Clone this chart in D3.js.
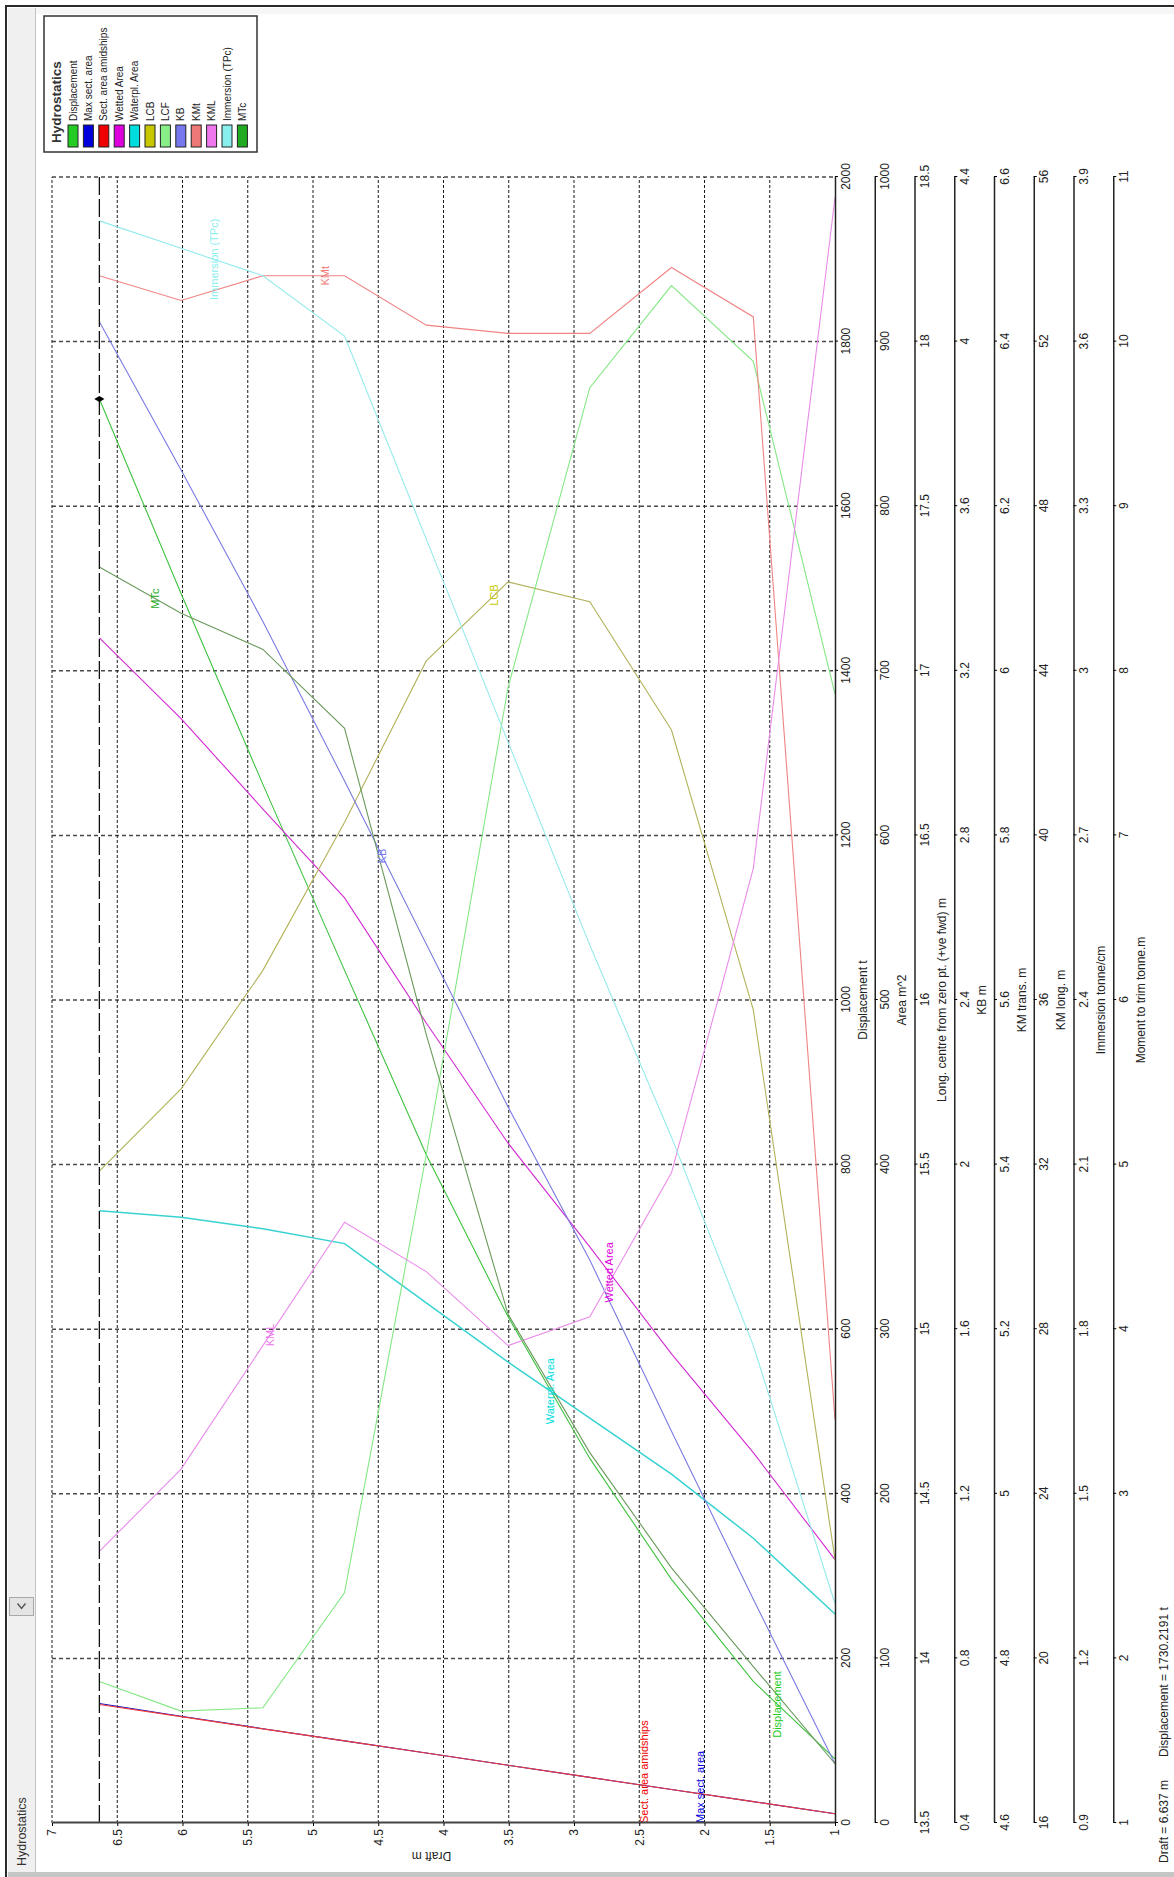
<!DOCTYPE html>
<html>
<head>
<meta charset="utf-8">
<script src="https://cdn.jsdelivr.net/npm/d3@7"></script>
<style>
  body { margin: 0; background: #fff; }
  svg { display: block; }
  text { font-family: "Liberation Sans", Arial, sans-serif; }
</style>
</head>
<body>
<svg id="chart" width="1174" height="1877"></svg>
<script>
// ---- Hydrostatic table: one value per draft station ----
const drafts = [1.0, 1.626, 2.253, 2.879, 3.505, 4.132, 4.758, 5.384, 6.011, 6.637];
const displacement = [78, 172, 296, 443, 615, 812, 1036, 1262, 1494, 1730.2191];
const maxSectArea = [5.6, 13.0, 20.4, 27.7, 35.1, 42.5, 49.9, 57.3, 64.9, 72.6];
const sectAreaAmidships = [5.6, 13.0, 20.4, 27.7, 35.1, 42.5, 49.9, 57.2, 64.6, 72.0];
const wettedArea = [160, 225, 285, 350, 413, 486, 562, 616, 671, 720];
const waterplArea = [127, 173, 212, 246, 280, 316, 352, 361, 368, 372];
const lcb = [14.30, 15.97, 16.82, 17.21, 17.27, 17.03, 16.54, 16.09, 15.73, 15.48];
const lcf = [16.93, 17.94, 18.17, 17.86, 16.95, 15.53, 14.20, 13.85, 13.84, 13.93];
const kb = [0.544, 0.944, 1.352, 1.768, 2.14, 2.536, 2.932, 3.32, 3.688, 4.048];
const kmt = [5.09, 6.43, 6.49, 6.41, 6.41, 6.42, 6.48, 6.48, 6.45, 6.48];
const kml = [55.5, 39.2, 31.8, 28.3, 27.6, 29.4, 30.6, 27.6, 24.6, 22.6];
const tpc = [1.30, 1.77, 2.15, 2.50, 2.87, 3.24, 3.61, 3.72, 3.77, 3.82];
const mtc = [1.36, 1.95, 2.55, 3.25, 4.09, 5.79, 7.65, 8.13, 8.35, 8.63];

// ---- Stacked value axes ----
const axisTitles = ["Displacement  t", "Area  m^2", "Long. centre  from  zero pt. (+ve fwd)  m", "KB  m",
                    "KM trans.  m", "KM long.  m", "Immersion  tonne/cm", "Moment to trim  tonne.m"];
const axisMin = [0, 0, 13.5, 0.4, 4.6, 16, 0.9, 1];
const axisMax = [2000, 1000, 18.5, 4.4, 6.6, 56, 3.9, 11];
const axisStep = [200, 100, 0.5, 0.4, 0.2, 4, 0.3, 1];

// Draft axis ticks
const draftTicks = d3.range(13).map(i => 1 + i * 0.5);

// ---- Series ----
const seriesNames = ["Displacement", "Max sect. area", "Sect. area amidships", "Wetted Area", "Waterpl. Area",
                     "LCB", "LCF", "KB", "KMt", "KML", "Immersion (TPc)", "MTc"];
const seriesValues = [displacement, maxSectArea, sectAreaAmidships, wettedArea, waterplArea,
                      lcb, lcf, kb, kmt, kml, tpc, mtc];
const seriesAxis = [0, 1, 1, 1, 1, 2, 2, 3, 4, 5, 6, 7];
const seriesColors = ["#3fc23f", "#1010c8", "#f03a3a", "#d42ad4", "#38d2d2",
                      "#b2b25a", "#84e884", "#7a7ae2", "#f08484", "#ea8cea", "#94eaea", "#6a9a5c"];
const swatchColors = ["#22cc22", "#0000dd", "#ee0000", "#dd00dd", "#00dddd",
                      "#c8c800", "#88ee88", "#7777ee", "#ee7777", "#ee77ee", "#88eeee", "#22aa22"];
// Curve label: draft at which the label sits, and whether it sits on the curve or at the axis start
const labelDraft = [1.44, 2.03, 2.46, 2.73, 3.18, 3.61, null, 4.47, 4.91, 5.33, 5.76, 6.21];
const labelAtStart = [false, true, true, false, false, false, false, false, false, false, false, false];

// Current loading condition
const currentDraft = 6.637;
const currentDisplacement = 1730.2191;

// ---- Layout (drawn unrotated, then turned a quarter turn) ----
const W = 1877, H = 1174;
const x0 = 54, x1 = 1700;          // value range
const yTop = 52, yBot = 835;        // draft 7 .. draft 1
const axis0 = 835, axisGap = 39.75;

const svg = d3.select("#chart");
svg.append("rect").attr("width", 1174).attr("height", 1877).attr("fill", "#fff");

const g = svg.append("g").attr("transform", `translate(0,${W}) rotate(-90)`);

const yDraft = d3.scaleLinear().domain([1, 7]).range([yBot, yTop]);
const scales = axisMin.map((m, i) => d3.scaleLinear().domain([m, axisMax[i]]).range([x0, x1]));
const tickSets = axisMin.map((m, i) => d3.range(11).map(k => +(m + k * axisStep[i]).toFixed(3)));
const fmt = d3.format("~g");

// Grid: lines at displacement ticks and at draft ticks
const grid = g.append("g");
grid.selectAll("line.v").data(tickSets[0].slice(1)).join("line")
  .attr("x1", d => scales[0](d)).attr("x2", d => scales[0](d))
  .attr("y1", yTop).attr("y2", yBot)
  .attr("stroke", "#4a4a4a").attr("stroke-width", 1.5).attr("stroke-dasharray", "4,3");
grid.selectAll("line.h").data(draftTicks.slice(1)).join("line")
  .attr("x1", x0).attr("x2", x1)
  .attr("y1", d => yDraft(d)).attr("y2", d => yDraft(d))
  .attr("stroke", "#1a1a1a").attr("stroke-width", 1).attr("stroke-dasharray", "3,2");

// Curves
const curves = g.append("g");
seriesNames.forEach((name, i) => {
  const xs = scales[seriesAxis[i]];
  const pts = drafts.map((d, k) => [xs(seriesValues[i][k]), yDraft(d)]);
  curves.append("path")
    .attr("d", d3.line()(pts))
    .attr("fill", "none")
    .attr("stroke", seriesColors[i])
    .attr("stroke-width", i === 4 ? 1.5 : 1.1);
});

// Curve labels
seriesNames.forEach((name, i) => {
  if (labelDraft[i] === null) return;
  const xs = scales[seriesAxis[i]];
  const interp = d3.scaleLinear().domain(drafts).range(seriesValues[i]);
  const lx = labelAtStart[i] ? x0 : xs(interp(labelDraft[i]));
  curves.append("text")
    .attr("x", lx).attr("y", yDraft(labelDraft[i]))
    .attr("dy", "0.35em")
    .attr("text-anchor", labelAtStart[i] ? "start" : "middle")
    .attr("font-size", 11)
    .attr("fill", swatchColors[i])
    .text(name);
});

// Current draft line and point
g.append("line")
  .attr("x1", x0).attr("x2", x1)
  .attr("y1", yDraft(currentDraft)).attr("y2", yDraft(currentDraft))
  .attr("stroke", "#111").attr("stroke-width", 1.3).attr("stroke-dasharray", "18,4");
g.append("path")
  .attr("d", d3.symbol(d3.symbolDiamond, 30)())
  .attr("transform", `translate(${scales[0](currentDisplacement)},${yDraft(currentDraft)})`)
  .attr("fill", "#000");

// Draft axis
const draftAxis = g.append("g").attr("transform", `translate(${x0},0)`)
  .call(d3.axisLeft(yDraft).tickValues(draftTicks).tickSize(3).tickSizeOuter(0).tickFormat(fmt));
draftAxis.select(".domain").attr("stroke", "#444").attr("stroke-width", 2);
draftAxis.selectAll("text").attr("font-size", 12).attr("fill", "#222").attr("font-family", "Liberation Sans, Arial, sans-serif");
g.append("text")
  .attr("transform", `translate(25,${(yTop + yBot) / 2 - 12}) rotate(-90)`)
  .attr("text-anchor", "middle").attr("font-size", 12).attr("fill", "#222")
  .text("Draft  m");

// Value axes
axisTitles.forEach((title, i) => {
  const ay = axis0 + i * axisGap;
  const ax = g.append("g").attr("transform", `translate(0,${ay})`)
    .call(d3.axisBottom(scales[i]).tickValues(tickSets[i]).tickSize(3).tickSizeOuter(0).tickFormat(fmt));
  ax.select(".domain").attr("stroke", "#222").attr("stroke-width", 1.5);
  ax.selectAll("text").attr("font-size", 12).attr("fill", "#222").attr("font-family", "Liberation Sans, Arial, sans-serif");
  g.append("text")
    .attr("x", (x0 + x1) / 2).attr("y", ay + 31.5)
    .attr("text-anchor", "middle").attr("font-size", 12).attr("fill", "#222")
    .text(title);
});

// Legend
const lg = g.append("g");
lg.append("rect").attr("x", 1725).attr("y", 44).attr("width", 136).attr("height", 213)
  .attr("fill", "#fff").attr("stroke", "#333").attr("stroke-width", 1.5);
lg.append("text").attr("x", 1734).attr("y", 61).attr("font-size", 13.5).attr("font-weight", "bold")
  .attr("fill", "#333").text("Hydrostatics");
seriesNames.forEach((name, i) => {
  const cy = 73 + i * 15.4;
  lg.append("rect").attr("x", 1730).attr("y", cy - 5).attr("width", 22).attr("height", 10)
    .attr("fill", swatchColors[i]).attr("stroke", "#222").attr("stroke-width", 1);
  lg.append("text").attr("x", 1756).attr("y", cy + 3.5).attr("font-size", 10).attr("fill", "#222").text(name);
});

// Current condition readout
g.append("text").attr("x", 14).attr("y", 1168).attr("font-size", 12).attr("fill", "#222")
  .text(`Draft = ${currentDraft} m`);
g.append("text").attr("x", 120).attr("y", 1168).attr("font-size", 12).attr("fill", "#222")
  .text(`Displacement = ${currentDisplacement} t`);

// ---- Window frame ----
svg.append("rect").attr("x", 8).attr("y", 8).attr("width", 27).attr("height", 1864).attr("fill", "#f0f0f0");
svg.append("line").attr("x1", 35.5).attr("x2", 35.5).attr("y1", 8).attr("y2", 1872).attr("stroke", "#c4c4c4");
svg.append("rect").attr("x", 36).attr("y", 8).attr("width", 1138).attr("height", 6).attr("fill", "#f6f6f6");
svg.append("rect").attr("x", 8).attr("y", 1872).attr("width", 1166).attr("height", 5).attr("fill", "#c6c6c6");
svg.append("line").attr("x1", 6).attr("x2", 6).attr("y1", 6).attr("y2", 1877).attr("stroke", "#2a2a2a").attr("stroke-width", 2);
svg.append("line").attr("x1", 5).attr("x2", 1174).attr("y1", 6).attr("y2", 6).attr("stroke", "#2a2a2a").attr("stroke-width", 2);
svg.append("rect").attr("x", 9.5).attr("y", 1597.5).attr("width", 24).attr("height", 18)
  .attr("fill", "#e4e4e4").attr("stroke", "#a8a8a8");
svg.append("path").attr("d", "M17.5,1603.5 L21.5,1608.5 L25.5,1603.5")
  .attr("fill", "none").attr("stroke", "#555").attr("stroke-width", 1.4);
svg.append("text").attr("transform", "translate(26,1866) rotate(-90)")
  .attr("font-size", 12.5).attr("fill", "#333").text("Hydrostatics");
</script>
</body>
</html>
